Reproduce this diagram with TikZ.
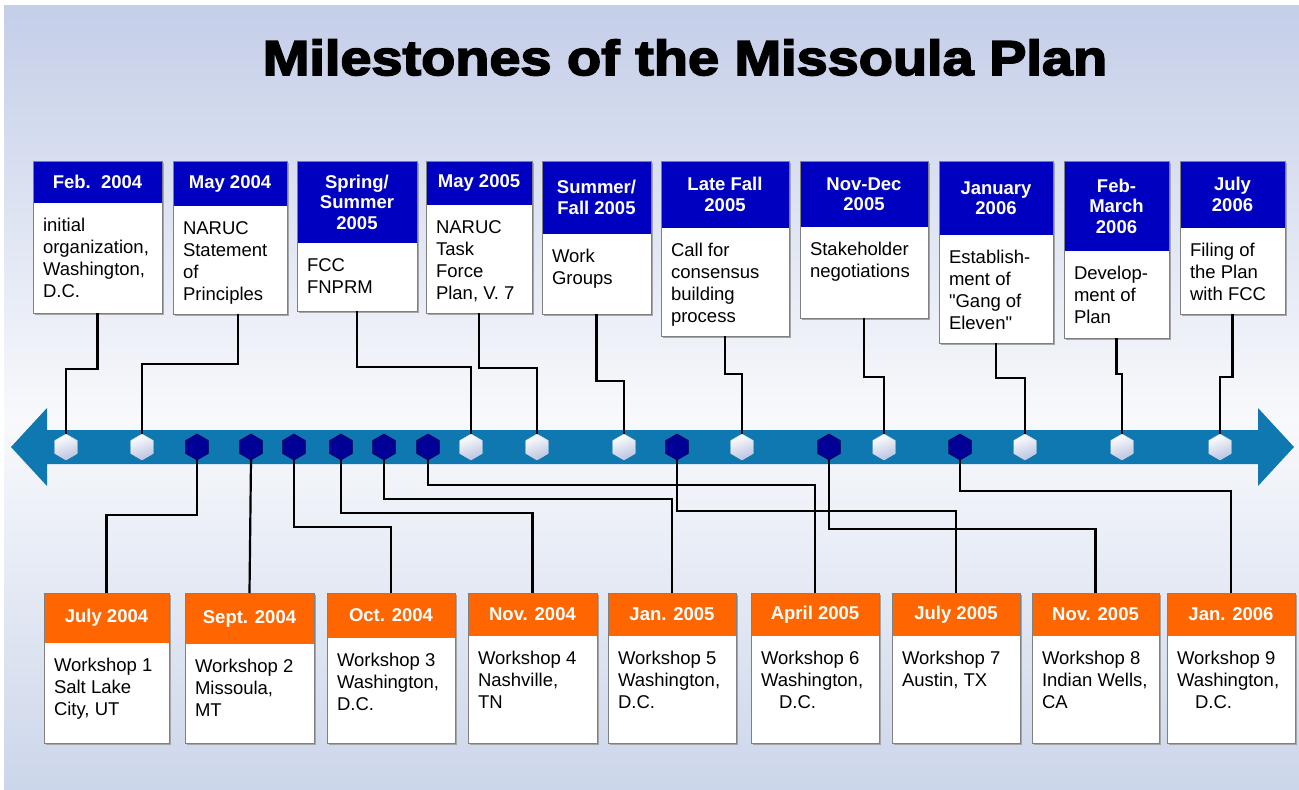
\documentclass[tikz,border=0pt]{standalone}
\usepackage{fontspec}
\setmainfont{Liberation Sans}
% plain family (no TeX ligature mapping, so " stays a straight quote)
\newfontfamily\cardfont{Liberation Sans}
\newfontfamily\titlefont{Liberation Sans}[BoldFeatures={FakeBold=3.5,FakeStretch=1.14}]
\usetikzlibrary{shapes.geometric}

\definecolor{bgtop}{RGB}{196,206,232}
\definecolor{bgmid}{RGB}{248,249,252}
\definecolor{bgbot}{RGB}{204,214,234}
\definecolor{axisblue}{RGB}{16,120,176}
\definecolor{datablue}{RGB}{0,0,192}
\definecolor{dateorange}{RGB}{255,102,0}
\definecolor{darkhex}{RGB}{0,0,150}
\definecolor{darkhexrim}{RGB}{0,0,80}
\definecolor{hexshade}{RGB}{186,195,224}
\definecolor{edgegray}{RGB}{128,128,128}
\definecolor{shadowgray}{RGB}{165,165,165}

\tikzset{
  hex/.style={regular polygon, regular polygon sides=6, shape border rotate=90,
    minimum size=26pt, inner sep=0pt, outer sep=0pt},
  hexlight/.style={hex, top color=white, bottom color=hexshade, shading angle=20,
    draw=hexshade!70!white, line width=0.4pt},
  hexdark/.style={hex, fill=darkhex, draw=darkhexrim, line width=0.6pt},
  card/.style={rectangle, fill=white, inner sep=0pt, outer sep=0pt},
  cardedge/.style={draw=edgegray, line width=0.8pt},
  cardshadow/.style={fill=shadowgray},
  topdate/.style={rectangle, fill=datablue, text=white, inner sep=0pt, outer sep=0pt,
    align=center, font=\cardfont\bfseries\fontsize{18.5}{20.5}\selectfont},
  botdate/.style={topdate, fill=dateorange},
  cardtext/.style={inner sep=0pt, outer sep=0pt, align=left,
    font=\cardfont\fontsize{18.5}{22}\selectfont},
  link/.style={draw=black, line width=2.2pt},
}

% card above the axis: name, left, right, date band bottom, bottom, date, event
\newcommand\topcard[7]{%
  \fill[cardshadow] (#2+2,163) rectangle (#3+2,#5+2);
  \node[card, minimum width={#3pt-#2pt}, minimum height={#5pt-161pt}, anchor=north west] (#1) at (#2,161) {};
  \node[topdate, minimum width={#3pt-#2pt}, minimum height={#4pt-161pt}, anchor=north west] (#1d) at (#2,161) {#6};
  \draw[cardedge] (#1.north west) rectangle (#1.south east);
  \node[cardtext, anchor=north west] (#1t) at (#2+10,#4+13) {\strut #7};
}
% card below the axis: name, left, right, date band bottom, date, workshop
\newcommand\botcard[6]{%
  \fill[cardshadow] (#2+2,595) rectangle (#3+2,745);
  \node[card, minimum width={#3pt-#2pt}, minimum height=150pt, anchor=north west] (#1) at (#2,593) {};
  \node[botdate, minimum width={#3pt-#2pt}, minimum height={#4pt-593pt}, anchor=north west] (#1d) at (#2,593) {#5};
  \draw[cardedge] (#1.north west) rectangle (#1.south east);
  \node[cardtext, anchor=north west] (#1t) at (#2+10,#4+13) {\strut #6};
}

\begin{document}
\begin{tikzpicture}[x=1pt, y=-1pt]
\useasboundingbox (0,0) rectangle (1299,790);
% backdrop
\fill[white] (0,0) rectangle (1299,790);
\shade[top color=bgtop, bottom color=bgmid] (4,5) rectangle (1299,420);
\shade[top color=bgmid, bottom color=bgbot] (4,419.5) rectangle (1299,790);

% title
\node[font=\titlefont\bfseries\fontsize{49}{55}\selectfont, anchor=base, inner sep=0pt] (title) at (685,75) {Milestones of the Missoula Plan};

% double-headed time axis
\fill[axisblue] (11,447) -- (47,408) -- (47,430) -- (1258,430) -- (1258,408) -- (1294,447)
  -- (1258,486) -- (1258,464) -- (47,464) -- (47,486) -- cycle;

% milestone markers
\foreach \n/\x in {w1/66, w2/142, w3/471, w4/537, w5/624, w6/742, w7/884, w8/1025, w9/1122, w10/1220}
  \node[hexlight] (\n) at (\x,447) {};
\foreach \n/\x in {d1/197, d2/251, d3/294, d4/341, d5/384, d6/428, d7/677, d8/829, d9/960}
  \node[hexdark] (\n) at (\x,447) {};

% events
\topcard{t1}{33}{162}{203}{313}{Feb.\ \ 2004}{initial\\organization,\\Washington,\\D.C.}
\topcard{t2}{173}{287}{206}{314}{May 2004}{NARUC\\Statement\\of\\Principles}
\topcard{t3}{297}{417}{243}{311}{Spring/\\Summer\\2005}{FCC\\FNPRM}
\topcard{t4}{426}{532}{205}{313}{May 2005}{NARUC\\Task\\Force\\Plan, V. 7}
\topcard{t5}{542}{651}{234}{314}{Summer/\\Fall 2005}{Work\\Groups}
\topcard{t6}{661}{789}{228}{336}{Late Fall\\2005}{Call for\\consensus\\building\\process}
\topcard{t7}{800}{928}{227}{318}{Nov-Dec\\2005}{Stakeholder\\negotiations}
\topcard{t8}{939}{1053}{235}{343}{January\\2006}{Establish-\\ment of\\"Gang of\\Eleven"}
\topcard{t9}{1064}{1169}{251}{338}{Feb-\\March\\2006}{Develop-\\ment of\\Plan}
\topcard{t10}{1180}{1285}{228}{314}{July\\2006}{Filing of\\the Plan\\with FCC}

% workshops
\botcard{b1}{44}{169}{643}{July 2004}{Workshop 1\\Salt Lake\\City, UT}
\botcard{b2}{185}{314}{644}{Sept. 2004}{Workshop 2\\Missoula,\\MT}
\botcard{b3}{327}{455}{638}{Oct. 2004}{Workshop 3\\Washington,\\D.C.}
\botcard{b4}{468}{597}{636}{Nov. 2004}{Workshop 4\\Nashville,\\TN}
\botcard{b5}{608}{736}{636}{Jan. 2005}{Workshop 5\\Washington,\\D.C.}
\botcard{b6}{751}{879}{636}{April 2005}{Workshop 6\\Washington,\\\hspace*{18pt}D.C.}
\botcard{b7}{892}{1020}{636}{July 2005}{Workshop 7\\Austin, TX}
\botcard{b8}{1032}{1159}{636}{Nov. 2005}{Workshop 8\\Indian Wells,\\CA}
\botcard{b9}{1167}{1295}{636}{Jan. 2006}{Workshop 9\\Washington,\\\hspace*{18pt}D.C.}

% leaders from events down to the axis
\coordinate (t2s) at ([xshift=8pt]t2.south);
\draw[link] (t1.south) -- (t1.south |- 0,369) -| (w1.north);
\draw[link] (t2s) -- (t2s |- 0,364) -| (w2.north);
\draw[link] (t3.south) -- (t3.south |- 0,367) -| (w3.north);
\draw[link] (t4.south) -- (t4.south |- 0,368) -| (w4.north);
\draw[link] (t5.south) -- (t5.south |- 0,381) -| (w5.north);
\draw[link] (t6.south) -- (t6.south |- 0,374) -| (w6.north);
\draw[link] (t7.south) -- (t7.south |- 0,377) -| (w7.north);
\draw[link] (t8.south) -- (t8.south |- 0,378) -| (w8.north);
\draw[link] (t9.south) -- (t9.south |- 0,374) -| (w9.north);
\draw[link] (t10.south) -- (t10.south |- 0,377) -| (w10.north);

% leaders from the axis down to workshops
\draw[link] (d1.south) -- (d1.south |- 0,515) -| (b1.north);
\draw[link] (d2.south) -- (b2.north);
\draw[link] (d3.south) -- (d3.south |- 0,527) -| (b3.north);
\draw[link] (d4.south) -- (d4.south |- 0,513) -| (b4.north);
\draw[link] (d5.south) -- (d5.south |- 0,499) -| (b5.north);
\draw[link] (d6.south) -- (d6.south |- 0,485) -| (b6.north);
\draw[link] (d7.south) -- (d7.south |- 0,511) -| (b7.north);
\draw[link] (d8.south) -- (d8.south |- 0,529) -| (b8.north);
\draw[link] (d9.south) -- (d9.south |- 0,491) -| (b9.north);
\end{tikzpicture}
\end{document}
